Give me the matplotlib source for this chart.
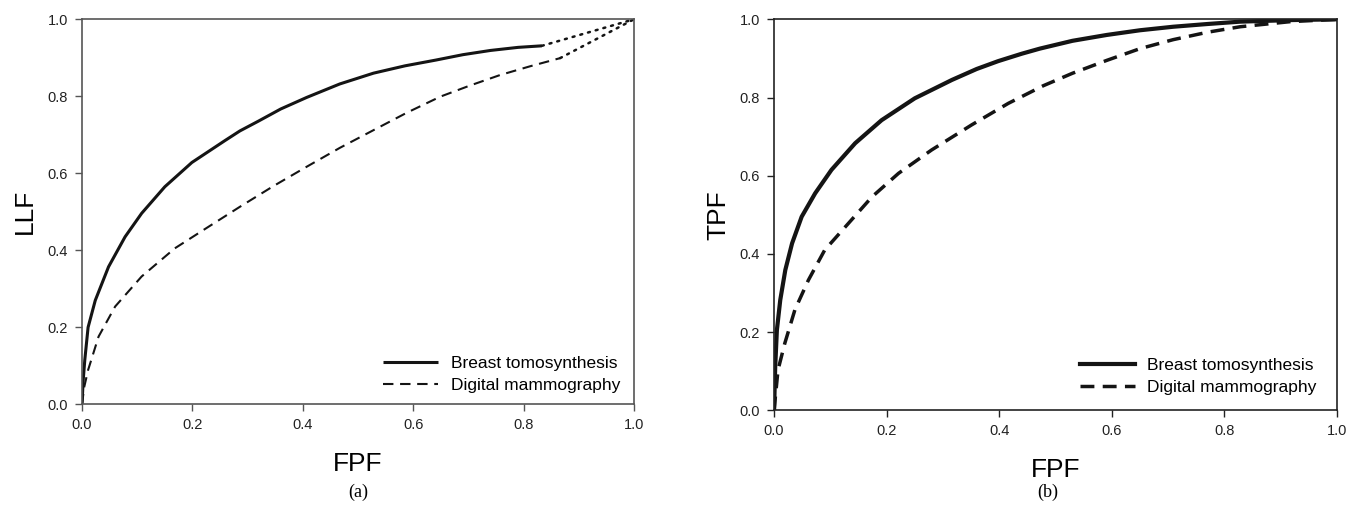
import matplotlib.pyplot as plt

plt.rcParams['font.family'] = 'Liberation Sans'

# (a) FROC-like curves: FPF vs LLF
a_bt_fpf = [0.0, 0.002, 0.005, 0.011, 0.024, 0.048, 0.078, 0.108, 0.150, 0.199, 0.259,
            0.286, 0.319, 0.360, 0.407, 0.467, 0.528, 0.585, 0.641, 0.690, 0.740, 0.790, 0.833]
a_bt_llf = [0.0, 0.060, 0.115, 0.200, 0.270, 0.357, 0.435, 0.496, 0.565, 0.628, 0.685,
            0.710, 0.735, 0.767, 0.797, 0.832, 0.860, 0.879, 0.894, 0.908, 0.919, 0.927, 0.931]
a_dm_fpf = [0.0, 0.004, 0.011, 0.030, 0.060, 0.108, 0.168, 0.229, 0.286, 0.347, 0.407,
            0.467, 0.528, 0.588, 0.649, 0.703, 0.757, 0.812, 0.866]
a_dm_llf = [0.0, 0.045, 0.089, 0.176, 0.254, 0.332, 0.405, 0.461, 0.513, 0.567, 0.617,
            0.666, 0.712, 0.757, 0.799, 0.828, 0.855, 0.878, 0.899]
# dotted extensions to the (1, 1) corner
a_bt_ext_fpf = [0.833, 1.0]
a_bt_ext_llf = [0.931, 1.0]
a_dm_ext_fpf = [0.866, 1.0]
a_dm_ext_llf = [0.899, 1.0]

# (b) ROC curves: FPF vs TPF
b_bt_fpf = [0.0, 0.002, 0.005, 0.011, 0.020, 0.032, 0.049, 0.073, 0.102, 0.144, 0.191,
            0.250, 0.316, 0.360, 0.398, 0.440, 0.472, 0.530, 0.591, 0.650, 0.709, 0.770,
            0.828, 0.917, 1.0]
b_bt_tpf = [0.0, 0.110, 0.205, 0.282, 0.359, 0.427, 0.495, 0.555, 0.615, 0.683, 0.742,
            0.798, 0.845, 0.873, 0.893, 0.912, 0.925, 0.945, 0.960, 0.972, 0.981, 0.988,
            0.994, 0.998, 1.0]
b_dm_fpf = [0.0, 0.007, 0.019, 0.037, 0.061, 0.090, 0.132, 0.174, 0.221, 0.280, 0.351,
            0.416, 0.478, 0.530, 0.591, 0.650, 0.709, 0.770, 0.828, 0.917, 1.0]
b_dm_tpf = [0.0, 0.103, 0.171, 0.257, 0.333, 0.410, 0.478, 0.546, 0.606, 0.666, 0.730,
            0.785, 0.830, 0.862, 0.895, 0.925, 0.948, 0.967, 0.981, 0.994, 1.0]

ticks = [0.0, 0.2, 0.4, 0.6, 0.8, 1.0]
tick_labels = ['0.0', '0.2', '0.4', '0.6', '0.8', '1.0']

fig = plt.figure(figsize=(13.58, 5.08), dpi=100)
ax1 = fig.add_axes([0.0604, 0.2041, 0.4065, 0.758])
ax2 = fig.add_axes([0.570, 0.1923, 0.4146, 0.7697])

ink = '#141414'

# panel (a)
ax1.plot(a_bt_fpf, a_bt_llf, color=ink, lw=2.2, solid_capstyle='butt', label='Breast tomosynthesis')
ax1.plot(a_dm_fpf, a_dm_llf, color=ink, lw=1.5, dashes=(5, 3.2), label='Digital mammography')
ax1.plot(a_bt_ext_fpf, a_bt_ext_llf, color=ink, lw=1.8, linestyle=(0, (0.8, 2.4)), dash_capstyle='round')
ax1.plot(a_dm_ext_fpf, a_dm_ext_llf, color=ink, lw=1.8, linestyle=(0, (0.8, 2.4)), dash_capstyle='round')
ax1.set_ylabel('LLF', fontsize=19, labelpad=8)
ax1.legend(loc='lower left', bbox_to_anchor=(0.545, 0.03), frameon=False, fontsize=12.5,
           handlelength=3.2, handletextpad=0.7, labelspacing=0.4, borderpad=0, borderaxespad=0)

# panel (b)
ax2.plot(b_bt_fpf, b_bt_tpf, color=ink, lw=3.0, label='Breast tomosynthesis')
ax2.plot(b_dm_fpf, b_dm_tpf, color=ink, lw=2.5, dashes=(4, 2.4), label='Digital mammography')
ax2.set_ylabel('TPF', fontsize=19, labelpad=7)
ax2.legend(loc='lower left', bbox_to_anchor=(0.543, 0.038), frameon=False, fontsize=12.5,
           handlelength=3.2, handletextpad=0.7, labelspacing=0.4, borderpad=0, borderaxespad=0)

for ax, spine_col in [(ax1, '#555555'), (ax2, '#222222')]:
    ax.set_xlim(0, 1)
    ax.set_ylim(0, 1)
    ax.set_xticks(ticks)
    ax.set_xticklabels(tick_labels)
    ax.set_yticks(ticks)
    ax.set_yticklabels(tick_labels)
    ax.tick_params(direction='out', length=5, width=1, colors=spine_col,
                   labelcolor='#222222', labelsize=10.5, pad=5)
    for s in ax.spines.values():
        s.set_color(spine_col)
        s.set_linewidth(1.2)
    ax.set_xlabel('FPF', fontsize=19, labelpad=14)

fig.text(0.2636, 0.031, '(a)', fontsize=13, family='Liberation Serif', ha='center', va='center')
fig.text(0.7717, 0.031, '(b)', fontsize=13, family='Liberation Serif', ha='center', va='center')

fig.savefig('out.png', dpi=100)
